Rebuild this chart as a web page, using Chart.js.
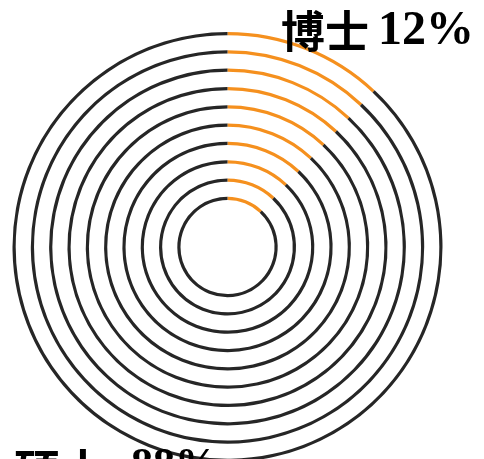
<!DOCTYPE html>
<html>
<head>
<meta charset="utf-8">
<script src="https://cdn.jsdelivr.net/npm/chart.js@4.4.1/dist/chart.umd.min.js"></script>
<style>
  html, body { margin: 0; padding: 0; background: #ffffff; }
  #wrap { width: 484px; height: 459px; position: relative; overflow: hidden; }
</style>
</head>
<body>
<div id="wrap"><canvas id="c" width="484" height="459"></canvas></div>
<script>
// Data
const categories = ['博士', '碩士'];
const percentages = [12, 88];
const percentLabels = ['12%', '88%'];
const ringCount = 10;

// Styles
const orange = '#F5901E';
const dark = '#262626';
const ringWeight = 3.2;
const gapWeight = 15.13;

const datasets = [];
for (let i = 0; i < ringCount; i++) {
  datasets.push({
    label: 'ring' + (i + 1),
    data: percentages,
    backgroundColor: [orange, dark],
    borderWidth: 0,
    weight: ringWeight
  });
  if (i < ringCount - 1) {
    datasets.push({
      label: 'gap' + (i + 1),
      data: [100],
      backgroundColor: ['rgba(0,0,0,0)'],
      borderWidth: 0,
      weight: gapWeight
    });
  }
}

const labelPlugin = {
  id: 'labels',
  afterDraw(chart) {
    const ctx = chart.ctx;
    ctx.save();
    ctx.fillStyle = '#000000';
    ctx.textAlign = 'left';
    ctx.textBaseline = 'alphabetic';
    // top-right label (博士)
    ctx.font = "bold 44px 'Noto Sans CJK TC', 'Noto Sans CJK SC', serif";
    ctx.fillText(categories[0], 281, 48);
    ctx.font = "bold 48px 'Liberation Serif', 'DejaVu Serif', serif";
    ctx.fillText(percentLabels[0], 378, 44);
    // bottom-left label (碩士), mostly cut off
    ctx.font = "bold 46px 'Noto Sans CJK TC', 'Noto Sans CJK SC', serif";
    ctx.fillText(categories[1], 14, 488);
    ctx.font = "bold 44px 'Liberation Serif', 'DejaVu Serif', serif";
    ctx.fillText(percentLabels[1], 131, 478);
    ctx.restore();
  }
};

new Chart(document.getElementById('c'), {
  type: 'doughnut',
  data: { labels: categories, datasets: datasets },
  options: {
    responsive: false,
    animation: false,
    events: [],
    radius: 215,
    cutout: '21.86%',
    rotation: 0,
    layout: { padding: { left: 0, right: 29, top: 35, bottom: 0 } },
    plugins: {
      legend: { display: false },
      tooltip: { enabled: false },
      title: { display: false }
    },
    elements: { arc: { borderWidth: 0 } }
  },
  plugins: [labelPlugin]
});
</script>
</body>
</html>
